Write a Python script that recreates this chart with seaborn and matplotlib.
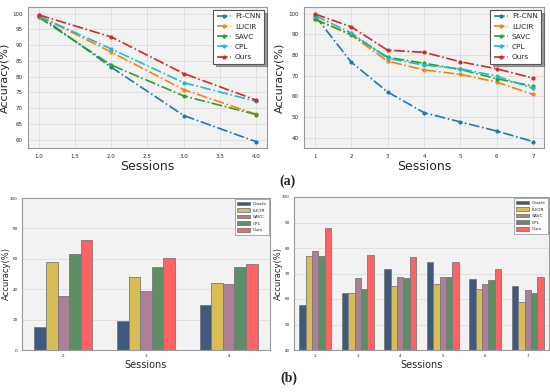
import numpy as np
import pandas as pd
import seaborn as sns
import matplotlib
matplotlib.use("Agg")
import matplotlib.pyplot as plt

# ---------------- data ----------------
methods_a = ["Ft-CNN", "LUCIR", "SAVC", "CPL", "Ours"]
line_colors = ["#1f77b4", "#ff7f0e", "#2ca02c", "#17becf", "#d62728"]

sessions_a1 = [1.0, 2.0, 3.0, 4.0]
ftcnn_a1 = [99.5, 83.0, 67.7, 59.4]
lucir_a1 = [99.3, 87.8, 75.9, 68.1]
savc_a1 = [98.8, 83.7, 73.9, 68.0]
cpl_a1 = [99.2, 88.8, 78.1, 72.2]
ours_a1 = [99.6, 92.6, 81.0, 72.6]

sessions_a2 = [1, 2, 3, 4, 5, 6, 7]
ftcnn_a2 = [99.0, 76.5, 62.1, 52.1, 47.6, 43.2, 38.1]
lucir_a2 = [97.4, 89.6, 77.0, 72.8, 70.6, 66.9, 60.9]
savc_a2 = [97.2, 89.9, 78.9, 76.0, 73.0, 68.5, 64.9]
cpl_a2 = [99.0, 90.7, 78.4, 75.1, 73.3, 69.8, 63.8]
ours_a2 = [99.8, 93.6, 82.3, 81.3, 76.7, 73.3, 68.8]

methods_b = ["Oracle", "LUCIR", "SAVC", "CPL", "Ours"]
bar_colors = ["#3f5a7c", "#d8bd55", "#ab7f98", "#5d8f66", "#ff6262"]

sessions_b1 = ["2", "3", "4"]
oracle_b1 = [15.4, 19.1, 29.7]
lucir_b1 = [57.8, 47.7, 44.2]
savc_b1 = [35.6, 38.9, 43.1]
cpl_b1 = [63.3, 54.5, 54.3]
ours_b1 = [72.5, 60.4, 56.5]

sessions_b2 = ["2", "3", "4", "5", "6", "7"]
oracle_b2 = [57.8, 62.5, 71.9, 74.6, 68.0, 65.2]
lucir_b2 = [76.9, 62.5, 65.2, 65.8, 63.9, 58.8]
savc_b2 = [78.8, 68.4, 68.8, 68.6, 66.0, 63.4]
cpl_b2 = [77.0, 64.1, 68.1, 68.6, 67.6, 62.2]
ours_b2 = [88.0, 77.1, 76.3, 74.4, 71.9, 68.8]

# ---------------- style ----------------
sns.set_style("whitegrid")
plt.rcParams["font.family"] = ["DejaVu Sans"]

fig = plt.figure(figsize=(5.5, 3.92), dpi=100)
W, H = 550.0, 392.0


def add_ax(x0, y0, x1, y1):
    return fig.add_axes([x0 / W, 1 - y1 / H, (x1 - x0) / W, (y1 - y0) / H])


def style_ax(ax, face="#f2f2f2"):
    ax.set_facecolor(face)
    for s in ax.spines.values():
        s.set_color("#999999")
        s.set_linewidth(0.8)


def line_panel(ax, x, series, yticks, ylim, xlim, ylab_x):
    style_ax(ax)
    for m, c, v in zip(methods_a, line_colors, series):
        sns.lineplot(x=x, y=v, ax=ax, color=c, marker="o", markersize=3,
                     markeredgewidth=0, linestyle="-.", linewidth=1.2, label=m)
    ax.set_ylim(*ylim)
    ax.set_xlim(*xlim)
    ax.set_yticks(yticks)
    ax.grid(True, color="#dcdcdc", linewidth=0.6)
    ax.tick_params(labelsize=4, length=2, pad=2)
    ax.set_xlabel("Sessions", fontsize=9, labelpad=1)
    ax.set_ylabel("Accuracy(%)", fontsize=8)
    ax.yaxis.set_label_coords(ylab_x, 0.5)
    leg = ax.legend(loc="upper right", fontsize=5.3, frameon=True, fancybox=False,
                    shadow=True, handlelength=2.0, borderpad=0.45, labelspacing=0.55,
                    handletextpad=0.5, borderaxespad=0.4)
    leg.get_frame().set_edgecolor("#555555")
    leg.get_frame().set_facecolor("white")
    leg.get_frame().set_linewidth(0.8)


# top-left
ax1 = add_ax(28, 7, 267, 148)
line_panel(ax1, sessions_a1, [ftcnn_a1, lucir_a1, savc_a1, cpl_a1, ours_a1],
           np.arange(60, 101, 5), (57.4, 102.1), (0.85, 4.15), -0.075)
ax1.set_xticks(np.arange(1.0, 4.01, 0.5))

# top-right
ax2 = add_ax(304, 7, 544, 148)
line_panel(ax2, sessions_a2, [ftcnn_a2, lucir_a2, savc_a2, cpl_a2, ours_a2],
           np.arange(40, 101, 10), (35.0, 103.2), (0.7, 7.3), -0.079)
ax2.set_xticks(sessions_a2)


def bar_panel(ax, sess, series, ylim, yticks, width, ylab_x):
    style_ax(ax)
    rows = []
    for m, v in zip(methods_b, series):
        for s, val in zip(sess, v):
            rows.append({"Session": s, "Method": m, "Acc": val})
    df = pd.DataFrame(rows)
    sns.barplot(data=df, x="Session", y="Acc", hue="Method", hue_order=methods_b,
                palette=bar_colors, ax=ax, width=width, edgecolor="#7a7a7a",
                linewidth=0.6, saturation=1)
    ax.set_ylim(*ylim)
    ax.set_yticks(yticks)
    ax.grid(False)
    ax.yaxis.grid(True, color="#dddddd", linewidth=0.6)
    ax.set_axisbelow(True)
    ax.tick_params(labelsize=3, length=1.5, pad=1.5)
    ax.set_xlabel("Sessions", fontsize=7, labelpad=1)
    ax.set_ylabel("Accuracy(%)", fontsize=6)
    ax.yaxis.set_label_coords(ylab_x, 0.5)
    leg = ax.legend(loc="upper right", fontsize=3.2, frameon=True, fancybox=False,
                    handlelength=2.8, handleheight=0.9, borderpad=0.5, labelspacing=0.5,
                    handletextpad=0.6, borderaxespad=0.3)
    leg.get_frame().set_edgecolor("#888888")
    leg.get_frame().set_facecolor("white")
    leg.get_frame().set_linewidth(0.6)


ax3 = add_ax(22, 198, 270, 350)
bar_panel(ax3, sessions_b1, [oracle_b1, lucir_b1, savc_b1, cpl_b1, ours_b1],
          (0, 100), np.arange(0, 101, 20), 0.7, -0.045)
ax3.set_xlim(-0.5, 2.5)

ax4 = add_ax(294, 197, 549, 350)
bar_panel(ax4, sessions_b2, [oracle_b2, lucir_b2, savc_b2, cpl_b2, ours_b2],
          (40, 100), np.arange(40, 101, 10), 0.76, -0.043)
ax4.set_xlim(-0.5, 5.5)

fig.text(287 / W, 1 - 181 / H, "(a)", fontsize=10, fontweight="bold",
         family="Liberation Serif", ha="center", va="center")
fig.text(289 / W, 1 - 378 / H, "(b)", fontsize=10, fontweight="bold",
         family="Liberation Serif", ha="center", va="center")

fig.savefig("out.png", dpi=100)
